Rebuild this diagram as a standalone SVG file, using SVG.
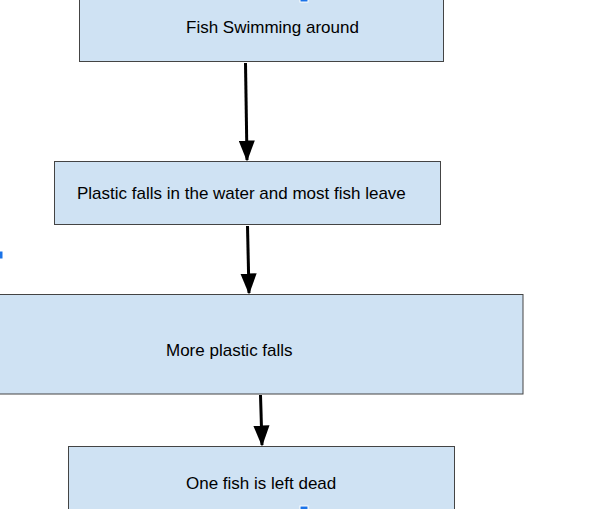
<svg xmlns="http://www.w3.org/2000/svg" width="589" height="509" viewBox="0 0 589 509">
<style>
.box{fill:#cfe2f3;stroke:#444;stroke-width:1}
.t{font-family:"Liberation Sans",Arial,sans-serif;font-size:17px;fill:#000}
.c{stroke:#000;stroke-width:3;fill:none}
.h{fill:#1a73e8;stroke:#fff;stroke-width:1}
</style>
<defs>
<marker id="ah" markerWidth="7" markerHeight="5.4" refX="6.5" refY="2.7" orient="auto" markerUnits="strokeWidth" viewBox="0 0 7 5.4">
<path d="M0,0 L7,2.7 L0,5.4 Z" fill="#000"/>
</marker>
</defs>
<rect width="589" height="509" fill="#fff"/>
<g id="n1"><rect class="box" x="79.5" y="-10" width="364" height="71.5"/><text class="t" x="186" y="33">Fish Swimming around</text></g>
<g id="n2"><rect class="box" x="54.5" y="161.5" width="386" height="63"/><text class="t" x="77" y="199">Plastic falls in the water and most fish leave</text></g>
<g id="n3"><rect class="box" x="-10" y="294.5" width="533" height="99.5"/><text class="t" x="166" y="356">More plastic falls</text></g>
<g id="n4"><rect class="box" x="68.5" y="446.5" width="386" height="80"/><text class="t" x="186" y="489">One fish is left dead</text></g>
<g id="connectors">
<line class="c" x1="245.5" y1="63" x2="247" y2="160" marker-end="url(#ah)"/>
<line class="c" x1="247.5" y1="226" x2="249" y2="293" marker-end="url(#ah)"/>
<line class="c" x1="260.5" y1="395" x2="262" y2="445" marker-end="url(#ah)"/>
</g>
<rect class="h" x="300" y="-3" width="8" height="5"/>
<rect class="h" x="-4" y="251" width="7" height="8"/>
<rect class="h" x="300" y="506" width="8" height="6"/>
</svg>
